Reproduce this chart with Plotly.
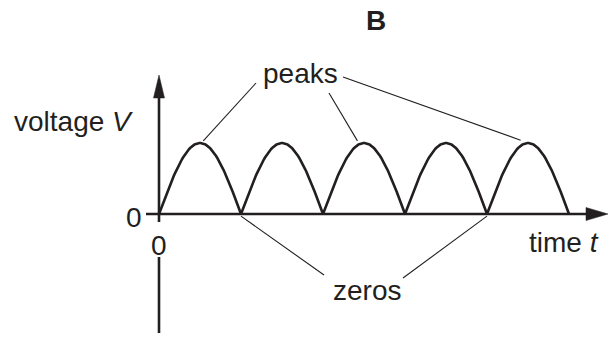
import numpy as np
import plotly.graph_objects as go

# ---- data (schematic, in units of half-periods and peak voltage) ----
zero_times = [0, 1, 2, 3, 4, 5]
peak_times = [0.5, 1.5, 2.5, 3.5, 4.5]
peak_voltages = [1, 1, 1, 1, 1]
labelled_peaks = [0, 2, 4]      # indices of peaks pointed at by "peaks"
labelled_zeros = [1, 4]         # indices of zeros pointed at by "zeros"

title_text = "B"
y_label = "voltage <i>V</i>"
x_label = "time <i>t</i>"
peaks_label = "peaks"
zeros_label = "zeros"
origin_label = "0"

# ---- layout helpers ----
W, H = 610, 338
OX, OY = 159, 214          # pixel position of origin
SX, SY = 82, 71            # pixels per unit
INK = "#231f20"
FONT = "Liberation Sans, Arial, Helvetica, sans-serif"
FS = 28

def tx(px):
    return (px - OX) / SX

def vy(py):
    return (OY - py) / SY

fig = go.Figure()

# curve: full-wave rectified sine arches between successive zeros
for i in range(len(peak_times)):
    t0, t1 = zero_times[i], zero_times[i + 1]
    tt = np.linspace(t0, t1, 80)
    vv = peak_voltages[i] * np.sin(np.pi * (tt - t0) / (t1 - t0))
    fig.add_trace(go.Scatter(x=tt, y=vv, mode="lines",
                             line=dict(color=INK, width=2.6),
                             hoverinfo="skip", showlegend=False))

shapes = []
# x axis
shapes.append(dict(type="line", x0=tx(146), x1=tx(592), y0=0, y1=0,
                   line=dict(color=INK, width=2.6), layer="above"))
# y axis (upper part and lower part, gap around the 0 label)
shapes.append(dict(type="line", x0=0, x1=0, y0=vy(222), y1=vy(95),
                   line=dict(color=INK, width=2.6), layer="above"))
shapes.append(dict(type="line", x0=0, x1=0, y0=vy(257), y1=vy(333),
                   line=dict(color=INK, width=2.6), layer="above"))
# arrowheads
shapes.append(dict(type="path", xsizemode="pixel", ysizemode="pixel",
                   xanchor=tx(608), yanchor=0,
                   path="M0,0 L-22,6.5 L-22,-6.5 Z",
                   fillcolor=INK, line=dict(color=INK, width=0.5), layer="above"))
shapes.append(dict(type="path", xsizemode="pixel", ysizemode="pixel",
                   xanchor=0, yanchor=vy(75),
                   path="M0,0 L5.5,-23 L-5.5,-23 Z",
                   fillcolor=INK, line=dict(color=INK, width=0.5), layer="above"))

# leader lines for peaks
peak_starts = [(tx(256), vy(83)), (tx(329), vy(93)), (tx(343), vy(77))]
peak_offsets = [(0.04, 0.03), (-0.08, 0.03), (-0.09, 0.04)]
for (sx, sy), idx, (dx, dy) in zip(peak_starts, labelled_peaks, peak_offsets):
    shapes.append(dict(type="line", x0=sx, y0=sy,
                       x1=peak_times[idx] + dx, y1=peak_voltages[idx] + dy,
                       line=dict(color=INK, width=1.1)))
# leader lines for zeros
zero_ends = [(tx(324), vy(275)), (tx(403), vy(278))]
for idx, (ex, ey) in zip(labelled_zeros, zero_ends):
    shapes.append(dict(type="line", x0=zero_times[idx], y0=-0.03,
                       x1=ex, y1=ey, line=dict(color=INK, width=1.1)))

font = dict(family=FONT, size=FS, color=INK)
annotations = [
    dict(x=tx(12), y=vy(121), text=y_label, xanchor="left", yanchor="middle"),
    dict(x=tx(300), y=vy(73), text=peaks_label, xanchor="center", yanchor="middle"),
    dict(x=tx(367), y=vy(290), text=zeros_label, xanchor="center", yanchor="middle"),
    dict(x=tx(601), y=vy(242), text=x_label, xanchor="right", yanchor="middle"),
    dict(x=0, y=vy(245), text=origin_label, xanchor="center", yanchor="middle"),
    dict(x=tx(144), y=vy(217), text=origin_label, xanchor="right", yanchor="middle"),
]
for a in annotations:
    a.update(showarrow=False, font=font, xref="x", yref="y")

fig.update_layout(
    width=W, height=H,
    margin=dict(l=0, r=0, t=0, b=0),
    paper_bgcolor="white", plot_bgcolor="white",
    title=dict(text="<b>" + title_text + "</b>", x=376 / W, xanchor="center",
               y=1 - 20 / H, yanchor="middle",
               font=dict(family=FONT, size=FS, color=INK)),
    xaxis=dict(range=[tx(0), tx(W)], visible=False, fixedrange=True),
    yaxis=dict(range=[vy(H), vy(0)], visible=False, fixedrange=True),
    shapes=shapes,
    annotations=annotations,
    showlegend=False,
)

fig.write_html("out.html", config={"displayModeBar": False},
               post_script="document.body.style.margin='0px';")
